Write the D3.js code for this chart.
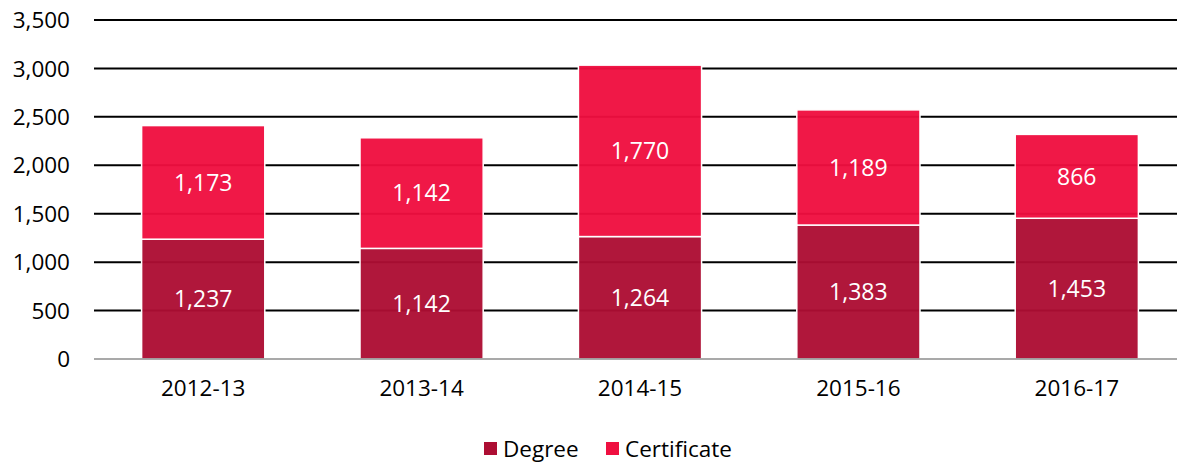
<!DOCTYPE html>
<html>
<head>
<meta charset="utf-8">
<script src="https://cdn.jsdelivr.net/npm/d3@7"></script>
<style>
  body { margin: 0; background: #fff; }
  svg { display: block; font-family: "Open Sans", sans-serif; }
</style>
</head>
<body>
<svg id="chart" width="1188" height="464"></svg>
<script>
// chart data
const years = ['2012-13', '2013-14', '2014-15', '2015-16', '2016-17']
const degree = [1237, 1142, 1264, 1383, 1453]
const certificate = [1173, 1142, 1770, 1189, 866]
const yTicks = [0, 500, 1000, 1500, 2000, 2500, 3000, 3500]
const seriesNames = ['Degree', 'Certificate']
const colors = ['#ad0e33', '#ef0f40']

const margin = { top: 20, right: 11, bottom: 105, left: 94 }
const width = 1188, height = 464
const svg = d3.select('#chart')

const x = d3.scaleBand().domain(years)
  .range([margin.left, 1186])
  .paddingInner(0.436).paddingOuter(0.218)
const y = d3.scaleLinear().domain([0, 3500]).range([height - margin.bottom, margin.top])

// gridlines
svg.append('g').selectAll('line')
  .data(yTicks.filter(d => d > 0))
  .join('line')
  .attr('x1', margin.left).attr('x2', width - margin.right)
  .attr('y1', d => y(d)).attr('y2', d => y(d))
  .attr('stroke', '#000').attr('stroke-width', 2)

// y tick labels
svg.append('g').selectAll('text')
  .data(yTicks)
  .join('text')
  .attr('x', 70).attr('y', d => y(d))
  .attr('dy', '0.36em')
  .attr('text-anchor', 'end')
  .attr('font-size', 22.5)
  .attr('fill', '#000')
  .text(d => d3.format(',')(d))

// stack the series
const rows = years.map((yr, i) => ({ year: yr, Degree: degree[i], Certificate: certificate[i] }))
const stacked = d3.stack().keys(seriesNames)(rows)

const layers = svg.append('g').selectAll('g')
  .data(stacked)
  .join('g')
  .attr('fill', (d, i) => colors[i])

layers.selectAll('rect')
  .data(d => d)
  .join('rect')
  .attr('x', d => x(d.data.year))
  .attr('width', x.bandwidth())
  .attr('y', d => y(d[1]))
  .attr('height', d => y(d[0]) - y(d[1]))
  .attr('fill-opacity', 0.96)
  .attr('stroke', '#fff')
  .attr('stroke-width', 1.5)

// value labels
layers.selectAll('text')
  .data(d => d)
  .join('text')
  .attr('x', d => x(d.data.year) + x.bandwidth() / 2)
  .attr('y', d => (y(d[0]) + y(d[1])) / 2)
  .attr('dy', '0.36em')
  .attr('text-anchor', 'middle')
  .attr('font-size', 23)
  .attr('fill', '#fff')
  .text(d => d3.format(',')(d[1] - d[0]))

// zero line
svg.append('line')
  .attr('x1', margin.left).attr('x2', width - margin.right)
  .attr('y1', y(0)).attr('y2', y(0))
  .attr('stroke', '#8c8c8c').attr('stroke-width', 1.5)

// x labels
svg.append('g').selectAll('text')
  .data(years)
  .join('text')
  .attr('x', d => x(d) + x.bandwidth() / 2)
  .attr('y', y(0) + 37)
  .attr('text-anchor', 'middle')
  .attr('font-size', 22.5)
  .attr('fill', '#000')
  .text(d => d)

// legend
const legendX = [484, 606]
const legend = svg.append('g').selectAll('g')
  .data(seriesNames)
  .join('g')
  .attr('transform', (d, i) => `translate(${legendX[i]},449)`)
legend.append('rect')
  .attr('x', 0).attr('y', -7).attr('width', 13).attr('height', 13)
  .attr('fill', (d, i) => colors[i])
legend.append('text')
  .attr('x', 19).attr('dy', '0.36em')
  .attr('font-size', 22.5)
  .attr('fill', '#000')
  .text(d => d)
</script>
</body>
</html>
